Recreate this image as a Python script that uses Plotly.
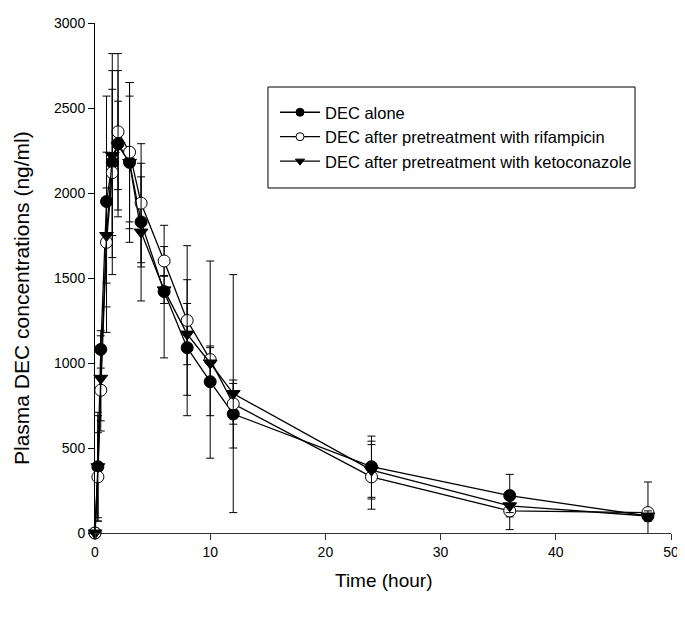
import plotly.graph_objects as go

times = [0, 0.25, 0.5, 1, 1.5, 2, 3, 4, 6, 8, 10, 12, 24, 36, 48]

alone = [0, 390, 1080, 1950, 2180, 2290, 2180, 1830, 1420, 1090, 890, 700, 390, 220, 100]
alone_sd = [0, 300, 110, 620, 430, 430, 390, 265, 390, 400, 200, 200, 180, 125, 20]

rif = [0, 330, 840, 1710, 2120, 2360, 2240, 1940, 1600, 1250, 1020, 760, 330, 130, 120]
rif_sd = [0, 260, 240, 530, 600, 460, 410, 350, 85, 440, 580, 120, 190, 110, 180]

keto = [0, 390, 910, 1750, 2220, 2280, 2180, 1770, 1430, 1170, 1000, 820, 370, 160, 100]
keto_sd = [0, 320, 250, 280, 600, 260, 470, 405, 80, 180, 100, 700, 170, 40, 30]

names = ["DEC alone",
         "DEC after pretreatment with rifampicin",
         "DEC after pretreatment with ketoconazole"]

x_title = "Time (hour)"
y_title = "Plasma DEC concentrations (ng/ml)"

FONT = "Arial, Liberation Sans, sans-serif"

fig = go.Figure()

markers = [
    dict(symbol="circle", color="black", line=dict(color="black", width=1)),
    dict(symbol="circle", color="white", line=dict(color="black", width=1)),
    dict(symbol="triangle-down", color="black", line=dict(color="black", width=1)),
]

for vals, sd, mk, name in zip([alone, rif, keto], [alone_sd, rif_sd, keto_sd], markers, names):
    fig.add_trace(go.Scatter(
        x=times, y=vals, name=name, mode="lines+markers",
        line=dict(color="black", width=1.3),
        marker=dict(size=12, **mk),
        error_y=dict(type="data", array=sd, visible=True,
                     color="black", thickness=1, width=4),
        cliponaxis=False, showlegend=False,
    ))

# legend entries with smaller symbols, as in the reference legend
for mk, name in zip(markers, names):
    fig.add_trace(go.Scatter(
        x=[None], y=[None], name=name, mode="lines+markers",
        line=dict(color="black", width=1.3),
        marker=dict(size=8, **mk),
        showlegend=True,
    ))

fig.add_shape(type="rect", xref="paper", yref="paper",
              x0=0.3003, x1=0.9375, y0=0.6765, y1=0.8745,
              line=dict(color="black", width=1), fillcolor="white", layer="below")

fig.add_annotation(text=y_title, xref="paper", yref="paper",
                   x=-0.1267, y=0.4608, xanchor="center", yanchor="middle",
                   textangle=-90, showarrow=False,
                   font=dict(family=FONT, size=21, color="black"))
fig.add_annotation(text=x_title, xref="paper", yref="paper",
                   x=0.5, y=-0.0922, xanchor="center", yanchor="middle",
                   showarrow=False,
                   font=dict(family=FONT, size=19, color="black"))

fig.update_layout(
    width=677, height=600,
    margin=dict(l=87, r=14, t=15, b=75),
    paper_bgcolor="white", plot_bgcolor="white",
    font=dict(family=FONT, color="black", size=14),
    showlegend=True,
    legend=dict(
        x=0.3125, y=0.8588, xanchor="left", yanchor="top",
        bgcolor="rgba(0,0,0,0)", borderwidth=0,
        font=dict(family=FONT, size=16.5, color="black"),
        itemwidth=40,
    ),
    xaxis=dict(
        range=[0, 50], tickvals=[0, 10, 20, 30, 40, 50],
        showgrid=False, zeroline=False, automargin=False,
        showline=True, linecolor="#333", linewidth=1,
        ticks="outside", ticklen=6, tickcolor="#333",
        tickfont=dict(size=14),
    ),
    yaxis=dict(
        range=[0, 3000], tickvals=[0, 500, 1000, 1500, 2000, 2500, 3000],
        showgrid=False, zeroline=False, automargin=False,
        showline=True, linecolor="black", linewidth=1,
        ticks="outside", ticklen=6, tickcolor="black",
        tickfont=dict(size=14),
    ),
)

fig.write_html("out.html")
